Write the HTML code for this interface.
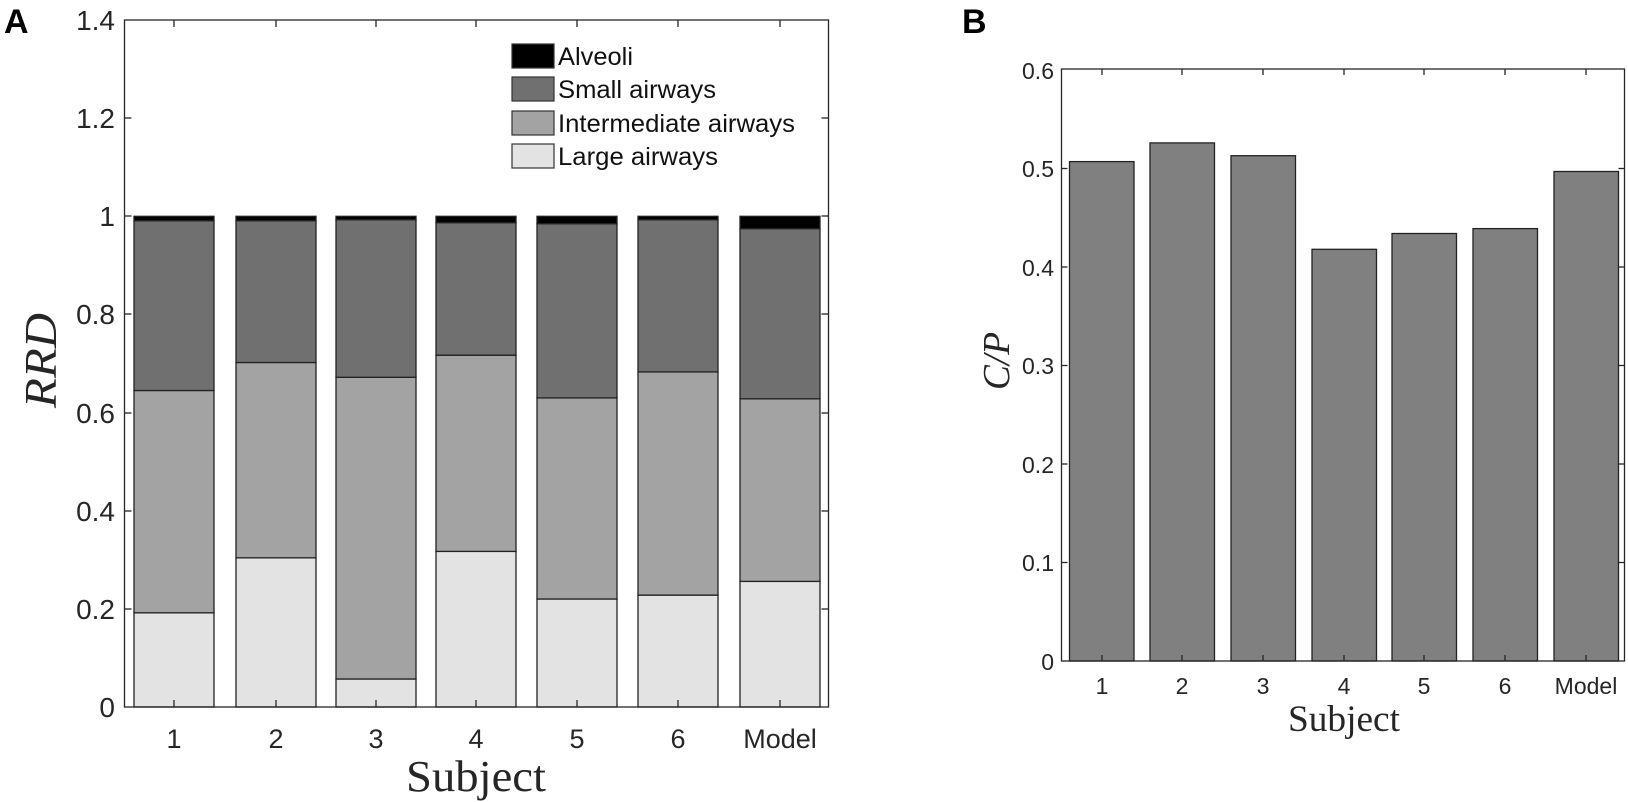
<!DOCTYPE html>
<html><head><meta charset="utf-8"><style>html,body{margin:0;padding:0;background:#fff}svg{display:block}</style></head>
<body>
<svg width="1628" height="802" viewBox="0 0 1628 802" xmlns="http://www.w3.org/2000/svg" font-family="Liberation Sans, sans-serif">
<rect width="1628" height="802" fill="#fff"/>
<text x="4" y="33" font-size="34" font-weight="bold" fill="#000">A</text>
<text x="962" y="33" font-size="34" font-weight="bold" fill="#000">B</text>

<g stroke="#222" stroke-width="1.3">
<rect x="134" y="612.8" width="80" height="94.2" fill="#e3e3e3"/>
<rect x="134" y="390.5" width="80" height="222.3" fill="#a3a3a3"/>
<rect x="134" y="220.7" width="80" height="169.8" fill="#707070"/>
<rect x="134" y="216.3" width="80" height="4.4" fill="#000"/>
<rect x="236" y="557.8" width="80" height="149.2" fill="#e3e3e3"/>
<rect x="236" y="362.5" width="80" height="195.3" fill="#a3a3a3"/>
<rect x="236" y="220.7" width="80" height="141.8" fill="#707070"/>
<rect x="236" y="216.3" width="80" height="4.4" fill="#000"/>
<rect x="336" y="679.0" width="80" height="28" fill="#e3e3e3"/>
<rect x="336" y="377.3" width="80" height="301.7" fill="#a3a3a3"/>
<rect x="336" y="219.7" width="80" height="157.6" fill="#707070"/>
<rect x="336" y="216.3" width="80" height="3.4" fill="#000"/>
<rect x="436" y="551.4" width="80" height="155.6" fill="#e3e3e3"/>
<rect x="436" y="355.2" width="80" height="196.2" fill="#a3a3a3"/>
<rect x="436" y="222.7" width="80" height="132.5" fill="#707070"/>
<rect x="436" y="216.3" width="80" height="6.4" fill="#000"/>
<rect x="537" y="599.0" width="80" height="108" fill="#e3e3e3"/>
<rect x="537" y="397.9" width="80" height="201.1" fill="#a3a3a3"/>
<rect x="537" y="223.7" width="80" height="174.2" fill="#707070"/>
<rect x="537" y="216.3" width="80" height="7.4" fill="#000"/>
<rect x="638" y="595.1" width="80" height="111.9" fill="#e3e3e3"/>
<rect x="638" y="371.9" width="80" height="223.2" fill="#a3a3a3"/>
<rect x="638" y="219.7" width="80" height="152.2" fill="#707070"/>
<rect x="638" y="216.3" width="80" height="3.4" fill="#000"/>
<rect x="740" y="581.4" width="80" height="125.6" fill="#e3e3e3"/>
<rect x="740" y="398.8" width="80" height="182.6" fill="#a3a3a3"/>
<rect x="740" y="228.6" width="80" height="170.2" fill="#707070"/>
<rect x="740" y="216.3" width="80" height="12.3" fill="#000"/>
</g>
<rect x="124.5" y="20" width="704" height="687" fill="none" stroke="#262626" stroke-width="1.3"/>
<g stroke="#262626" stroke-width="1.3">
<line x1="174" y1="707" x2="174" y2="700"/><line x1="276" y1="707" x2="276" y2="700"/><line x1="376" y1="707" x2="376" y2="700"/><line x1="476" y1="707" x2="476" y2="700"/><line x1="577" y1="707" x2="577" y2="700"/><line x1="678" y1="707" x2="678" y2="700"/><line x1="780" y1="707" x2="780" y2="700"/>
<line x1="174" y1="20" x2="174" y2="27"/><line x1="276" y1="20" x2="276" y2="27"/><line x1="376" y1="20" x2="376" y2="27"/><line x1="476" y1="20" x2="476" y2="27"/><line x1="577" y1="20" x2="577" y2="27"/><line x1="678" y1="20" x2="678" y2="27"/><line x1="780" y1="20" x2="780" y2="27"/>
<line x1="124.5" y1="609" x2="131.5" y2="609"/><line x1="124.5" y1="511" x2="131.5" y2="511"/><line x1="124.5" y1="413" x2="131.5" y2="413"/><line x1="124.5" y1="314" x2="131.5" y2="314"/><line x1="124.5" y1="216" x2="131.5" y2="216"/><line x1="124.5" y1="118" x2="131.5" y2="118"/>
<line x1="828.5" y1="609" x2="821.5" y2="609"/><line x1="828.5" y1="511" x2="821.5" y2="511"/><line x1="828.5" y1="413" x2="821.5" y2="413"/><line x1="828.5" y1="314" x2="821.5" y2="314"/><line x1="828.5" y1="216" x2="821.5" y2="216"/><line x1="828.5" y1="118" x2="821.5" y2="118"/>
</g>
<g font-size="28" fill="#262626" text-anchor="end">
<text x="115" y="717">0</text><text x="115" y="619">0.2</text><text x="115" y="521">0.4</text><text x="115" y="423">0.6</text><text x="115" y="324">0.8</text><text x="115" y="226">1</text><text x="115" y="128">1.2</text><text x="115" y="30">1.4</text>
</g>
<g font-size="27" fill="#262626" text-anchor="middle">
<text x="174" y="748">1</text><text x="276" y="748">2</text><text x="376" y="748">3</text><text x="476" y="748">4</text><text x="577" y="748">5</text><text x="678" y="748">6</text><text x="780" y="748">Model</text>
</g>
<text x="406" y="791" font-family="Liberation Serif, serif" font-size="44" fill="#262626" textLength="140" lengthAdjust="spacingAndGlyphs">Subject</text>
<text transform="translate(56,408) rotate(-90)" font-family="Liberation Serif, serif" font-style="italic" font-size="46" fill="#262626" textLength="95" lengthAdjust="spacingAndGlyphs">RRD</text>
<g stroke="#333" stroke-width="1.2">
<rect x="512" y="44" width="42" height="24" fill="#000"/>
<rect x="512" y="77" width="42" height="24" fill="#707070"/>
<rect x="512" y="111" width="42" height="24" fill="#a3a3a3"/>
<rect x="512" y="144" width="42" height="24" fill="#e3e3e3"/>
</g>
<g font-size="25" fill="#111" lengthAdjust="spacingAndGlyphs">
<text x="558" y="65" textLength="75" lengthAdjust="spacingAndGlyphs">Alveoli</text>
<text x="558" y="98" textLength="158" lengthAdjust="spacingAndGlyphs">Small airways</text>
<text x="558" y="132" textLength="237" lengthAdjust="spacingAndGlyphs">Intermediate airways</text>
<text x="558" y="165" textLength="160" lengthAdjust="spacingAndGlyphs">Large airways</text>
</g>

<g stroke="#222" stroke-width="1.3" fill="#808080">
<rect x="1069.5" y="161.6" width="64.5" height="499.4"/>
<rect x="1150" y="142.9" width="64.5" height="518.1"/>
<rect x="1231" y="155.7" width="64.5" height="505.3"/>
<rect x="1312" y="249.3" width="64.5" height="411.7"/>
<rect x="1392" y="233.5" width="64.5" height="427.5"/>
<rect x="1473" y="228.6" width="64.5" height="432.4"/>
<rect x="1554" y="171.5" width="64.5" height="489.5"/>
</g>
<rect x="1061.5" y="69" width="563" height="592" fill="none" stroke="#262626" stroke-width="1.3"/>
<g stroke="#262626" stroke-width="1.3">
<line x1="1102" y1="661" x2="1102" y2="655"/><line x1="1182" y1="661" x2="1182" y2="655"/><line x1="1263" y1="661" x2="1263" y2="655"/><line x1="1344" y1="661" x2="1344" y2="655"/><line x1="1424" y1="661" x2="1424" y2="655"/><line x1="1505" y1="661" x2="1505" y2="655"/><line x1="1586" y1="661" x2="1586" y2="655"/>
<line x1="1102" y1="69" x2="1102" y2="75"/><line x1="1182" y1="69" x2="1182" y2="75"/><line x1="1263" y1="69" x2="1263" y2="75"/><line x1="1344" y1="69" x2="1344" y2="75"/><line x1="1424" y1="69" x2="1424" y2="75"/><line x1="1505" y1="69" x2="1505" y2="75"/><line x1="1586" y1="69" x2="1586" y2="75"/>
<line x1="1061.5" y1="562.5" x2="1067.5" y2="562.5"/><line x1="1061.5" y1="464" x2="1067.5" y2="464"/><line x1="1061.5" y1="365.5" x2="1067.5" y2="365.5"/><line x1="1061.5" y1="267" x2="1067.5" y2="267"/><line x1="1061.5" y1="168.5" x2="1067.5" y2="168.5"/>
<line x1="1624.5" y1="562.5" x2="1618.5" y2="562.5"/><line x1="1624.5" y1="464" x2="1618.5" y2="464"/><line x1="1624.5" y1="365.5" x2="1618.5" y2="365.5"/><line x1="1624.5" y1="267" x2="1618.5" y2="267"/><line x1="1624.5" y1="168.5" x2="1618.5" y2="168.5"/>
</g>
<g font-size="23" fill="#262626" text-anchor="end">
<text x="1054" y="670">0</text><text x="1054" y="571">0.1</text><text x="1054" y="473">0.2</text><text x="1054" y="374">0.3</text><text x="1054" y="276">0.4</text><text x="1054" y="177">0.5</text><text x="1054" y="79">0.6</text>
</g>
<g font-size="23" fill="#262626" text-anchor="middle">
<text x="1102" y="694">1</text><text x="1182" y="694">2</text><text x="1263" y="694">3</text><text x="1344" y="694">4</text><text x="1424" y="694">5</text><text x="1505" y="694">6</text><text x="1586" y="694">Model</text>
</g>
<text x="1288" y="731" font-family="Liberation Serif, serif" font-size="37" fill="#262626" textLength="112" lengthAdjust="spacingAndGlyphs">Subject</text>
<text transform="translate(1009,390) rotate(-90)" font-family="Liberation Serif, serif" font-style="italic" font-size="38" fill="#262626" textLength="58" lengthAdjust="spacingAndGlyphs">C/P</text>
</svg>
</body></html>
